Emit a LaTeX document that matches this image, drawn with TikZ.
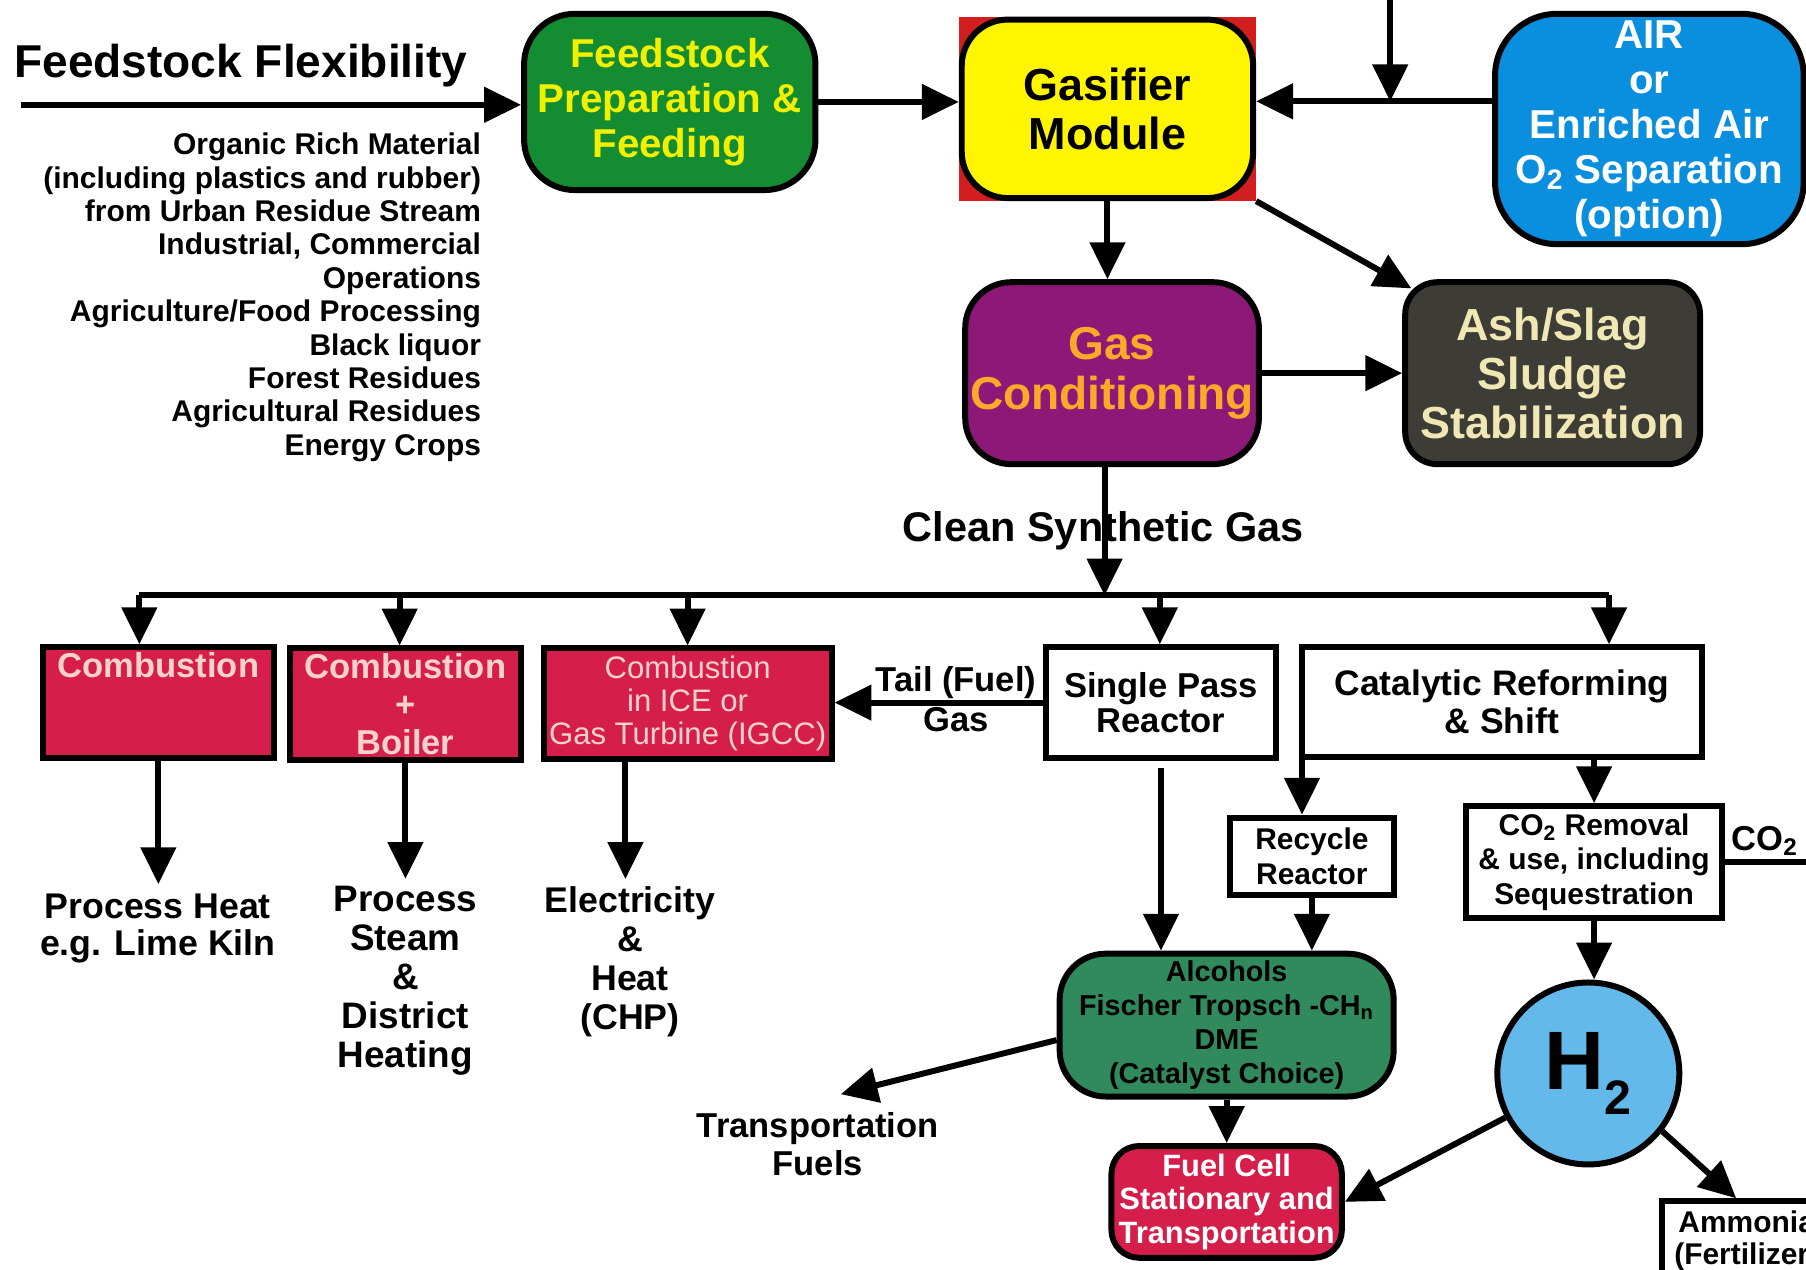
\documentclass[tikz,border=0pt]{standalone}
\usepackage{fontspec}
\setmainfont{Liberation Sans}
\usetikzlibrary{arrows.meta,calc}
\pgfdeclarelayer{bg}
\pgfsetlayers{bg,main}
\definecolor{prepgreen}{RGB}{20,140,50}
\definecolor{prepyel}{RGB}{240,240,0}
\definecolor{gasyel}{RGB}{255,245,0}
\definecolor{gasred}{RGB}{210,30,30}
\definecolor{airblue}{RGB}{10,142,222}
\definecolor{condpurple}{RGB}{140,25,120}
\definecolor{condorange}{RGB}{250,170,40}
\definecolor{ashgray}{RGB}{62,60,55}
\definecolor{ashtext}{RGB}{240,232,180}
\definecolor{crimson}{RGB}{214,30,74}
\definecolor{pinktext}{RGB}{250,210,205}
\definecolor{alcgreen}{RGB}{48,138,92}
\definecolor{htwoblue}{RGB}{100,185,235}
\newcommand\fsz[2]{\fontsize{#1}{#2}\selectfont\bfseries}
\newcommand\fszr[2]{\fontsize{#1}{#2}\selectfont}
\begin{document}
\begin{tikzpicture}[x=0.5pt,y=-0.5pt,
 arr/.style={line width=2.6pt,-{Triangle[length=16pt,width=15pt]}},
 plain/.style={line width=2.6pt},
 box/.style={draw=black,line width=2.6pt,align=center,inner sep=0pt},
 rbox/.style={box,rounded corners=#1},
 lab/.style={align=center,inner sep=0pt}
]
\useasboundingbox (0,0) rectangle (1568,1102);
\clip (0,0) rectangle (1568,1102);

% top row
\node[rbox=22pt, fill=prepgreen, text=prepyel, minimum width=126.5pt, minimum height=76.5pt, font=\fsz{17.5}{19.5}] (prep) at (581.5,88.5) {Feedstock\\Preparation \&\\Feeding};
\node[rbox=20pt, fill=gasyel, minimum width=126.5pt, minimum height=77.5pt, font=\fsz{19.5}{21.5}] (gas) at (961.5,94.5) {Gasifier\\Module};
\begin{pgfonlayer}{bg}
\fill[white] (0,0) rectangle (1568,1102);
\fill[gasred] (gas.north west) rectangle (gas.south east);
\end{pgfonlayer}
\node[rbox=27pt, fill=airblue, text=white, minimum width=134pt, minimum height=100pt, font=\fsz{17.5}{19.5}] (air) at (1432,112) {AIR\\or\\Enriched Air\\O\textsubscript{2} Separation\\(option)};
\node[rbox=20pt, fill=condpurple, text=condorange, minimum width=127.5pt, minimum height=79pt, font=\fsz{20}{21.5}] (cond) at (965.5,324) {Gas\\Conditioning};
\node[rbox=14pt, fill=ashgray, text=ashtext, minimum width=128pt, minimum height=79pt, font=\fsz{19.5}{21.25}] (ash) at (1348,324) {Ash/Slag\\Sludge\\Stabilization};

% text labels
\node[lab, anchor=base west, font=\fsz{20}{24}] (title) at (12,67) {Feedstock Flexibility};
\node[lab, anchor=north east, align=right, font=\fsz{13}{14.5}] (list) at (418,115) {Organic Rich Material\\(including plastics and rubber)\\from Urban Residue Stream\\Industrial, Commercial\\Operations\\Agriculture/Food Processing\\Black liquor\\Forest Residues\\Agricultural Residues\\Energy Crops};
\node[lab, anchor=base, font=\fsz{18}{20}] (clean) at (958,470) {Clean Synthetic Gas};

% lower boxes
\node[box, fill=crimson, text=pinktext, minimum width=100.5pt, minimum height=48pt, font=\fsz{15}{16.5}] (c1) at (137.5,610) {Combustion\\~\\~};
\node[box, fill=crimson, text=pinktext, minimum width=100pt, minimum height=48.5pt, font=\fsz{15}{16.5}] (c2) at (352,611.5) {Combustion\\+\\Boiler};
\node[box, fill=crimson, text=pinktext, minimum width=125pt, minimum height=48pt, font=\fszr{13.5}{14.25}] (c3) at (597,611) {Combustion\\in ICE or\\Gas Turbine (IGCC)};
\node[box, fill=white, minimum width=100pt, minimum height=48pt, font=\fsz{15}{15.5}] (sp) at (1008,610) {Single Pass\\Reactor};
\node[box, fill=white, minimum width=174pt, minimum height=47.5pt, font=\fsz{15.4}{16.5}] (cat) at (1304,609.5) {Catalytic Reforming\\\& Shift};
\node[box, fill=white, minimum width=71pt, minimum height=33.5pt, font=\fsz{13}{15}] (rec) at (1139,743.5) {Recycle\\Reactor};
\node[box, fill=white, minimum width=111pt, minimum height=48.5pt, font=\fsz{13}{15}] (co2) at (1384,748.5) {CO\textsubscript{2} Removal\\\& use, including\\Sequestration};
\node[rbox=20pt, fill=alcgreen, minimum width=145pt, minimum height=62pt, font=\fsz{12.5}{14.85}] (alc) at (1065,890) {Alcohols\\Fischer Tropsch -CH\textsubscript{n}\\DME\\(Catalyst Choice)};
\node[rbox=12pt, fill=crimson, text=white, minimum width=100pt, minimum height=48.5pt, font=\fsz{13.4}{14.5}] (fc) at (1065,1043.5) {Fuel Cell\\Stationary and\\Transportation};
\node[circle, draw=black, line width=2.6pt, fill=htwoblue, minimum size=79pt, inner sep=0pt, font=\fsz{36}{36}] (h2) at (1379,932) {H\raisebox{-0.3em}{\fsz{21}{21}2}};
\node[box, fill=white, minimum width=73.5pt, minimum height=34.5pt, font=\fsz{13}{14}] (amm) at (1516.5,1077.5) {Ammonia\\(Fertilizer)};

\node[lab, font=\fsz{15}{17}] (tail) at (830,607) {Tail (Fuel)\\Gas};
\node[lab, font=\fsz{15.5}{16}] (ph) at (137,806) {Process Heat\\e.g. Lime Kiln};
\node[lab, font=\fsz{16}{16.9}] (ps) at (352,851.5) {Process\\Steam\\\&\\District\\Heating};
\node[lab, font=\fsz{15.5}{17}] (el) at (547,835) {Electricity\\\&\\Heat\\(CHP)};
\node[lab, font=\fsz{15}{16.5}] (tf) at (710,993.5) {Transportation\\Fuels};
\node[lab, anchor=west, font=\fsz{15}{16}] (co2lab) at (1503,730) {CO\textsubscript{2}};

% coordinates
\coordinate (fsin) at (18,91);
\coordinate (topin) at (1207,0);
\coordinate (jn) at (1207,88);
\coordinate (bus) at (959,517);
\coordinate (busL) at (121,517);
\coordinate (busR) at (1397,517);
\coordinate (b2) at (347,517);
\coordinate (b3) at (597,517);
\coordinate (b4) at (1007,517);
\coordinate (co2out) at (1568,750);
\coordinate (tfend) at (730,950);
\coordinate (c3o) at ($(c3.south)+(-54,0)$);
\coordinate (catrec) at ($(cat.south west)+(3,0)$);

% connectors
\draw[arr] (fsin) -- (fsin -| prep.west);
\draw[arr] (prep.east) -- (prep.east -| gas.west);
\draw[arr] (topin) -- (jn);
\draw[arr] (air.west |- jn) -- (gas.east |- jn);
\draw[arr] (gas.south) -- (gas.south |- cond.north);
\draw[arr] (gas.south east) -- ($(ash.north west)+(8,8)$);
\draw[arr] (cond.east) -- (ash.west);
\draw[arr] (bus |- cond.south) -- (bus);
\draw[plain] (busL) -- (busR);
\draw[arr] (busL) -- (busL |- c1.north);
\draw[arr] (b2) -- (b2 |- c2.north);
\draw[arr] (b3) -- (b3 |- c3.north);
\draw[arr] (b4) -- (b4 |- sp.north);
\draw[arr] (busR) -- (busR |- cat.north);
\draw[arr, shorten >=4pt] (c1.south) -- (c1.south |- ph.north);
\draw[arr, shorten >=3pt] (c2.south) -- (c2.south |- ps.north);
\draw[arr, shorten >=3pt] (c3o) -- (c3o |- el.north);
\draw[arr] (sp.west) -- (sp.west -| c3.east);
\draw[arr, shorten <=3pt] (sp.south) -- (sp.south |- alc.north);
\draw[arr] (catrec) -- (catrec |- rec.north);
\draw[arr] (rec.south) -- (rec.south |- alc.north);
\draw[arr] (co2.north |- cat.south) -- (co2.north);
\draw[plain] (co2.east) -- (co2.east -| co2out);
\draw[arr] (co2.south) -- (co2.south |- h2.north);
\draw[arr] ($(alc.west)+(0,13)$) -- (tfend);
\draw[arr] (alc.south) -- (fc.north);
\draw[arr] (h2.208) -- (fc.east);
\draw[arr] (h2.322) -- ($(amm.north west)+(67,0)$);
\end{tikzpicture}
\end{document}
